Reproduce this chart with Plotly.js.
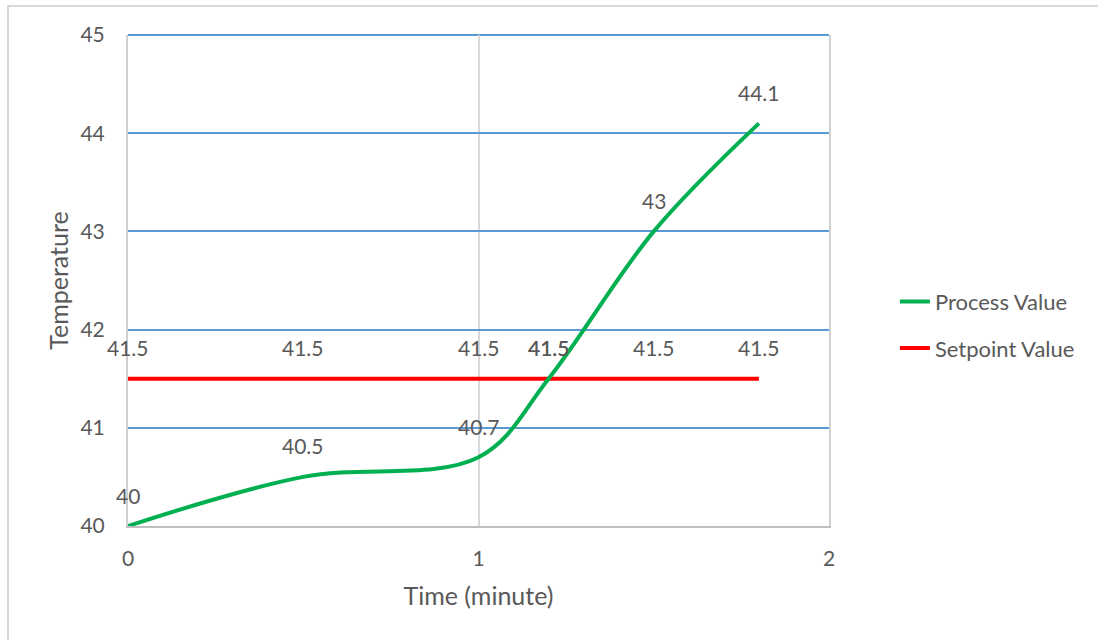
<!DOCTYPE html>
<html>
<head>
<meta charset="utf-8">
<script src="https://cdn.plot.ly/plotly-3.0.1.min.js"></script>
<style>
  html, body { margin: 0; padding: 0; background: #fff; }
  #wrap { position: relative; width: 1098px; height: 640px; overflow: hidden; }
  #chart { position: absolute; left: 0; top: 0; width: 1098px; height: 640px; }
  #frame {
    position: absolute; left: 7px; top: 5px; width: 1100px; height: 650px;
    border-left: 2px solid #D9D9D9; border-top: 2px solid #D9D9D9;
    pointer-events: none;
  }
</style>
</head>
<body>
<div id="wrap">
  <div id="chart"></div>
  <div id="frame"></div>
</div>
<script>
// Sample times (minutes) and temperature readings
const timeMin = [0, 0.5, 1, 1.2, 1.5, 1.8];
const processValue = [40, 40.5, 40.7, 41.5, 43, 44.1];
const setpointValue = [41.5, 41.5, 41.5, 41.5, 41.5, 41.5];
const seriesNames = ['Process Value', 'Setpoint Value'];
const xTickVals = [0, 1, 2];
const yTickVals = [40, 41, 42, 43, 44, 45];

const FONT = 'Lato, "Open Sans", sans-serif';
const TEXT_COLOR = '#595959';
const GRID_BLUE = '#5B9BD5';

// Setpoint drawn first so the process curve sits on top of it
const traces = [
  {
    x: timeMin, y: setpointValue, name: seriesNames[1],
    type: 'scatter', mode: 'lines',
    line: { color: '#FF0000', width: 4 },
    legendgroup: 'sp', legendrank: 2, hoverinfo: 'x+y'
  },
  {
    x: timeMin, y: processValue, name: seriesNames[0],
    type: 'scatter', mode: 'lines',
    line: { color: '#00B050', width: 4, shape: 'spline', smoothing: 1 },
    legendgroup: 'pv', legendrank: 1, hoverinfo: 'x+y'
  }
];

// Value labels placed above each point
function valueLabels(xs, ys) {
  return xs.map((x, i) => ({
    x: x, y: ys[i], xref: 'x', yref: 'y',
    text: String(ys[i]), showarrow: false,
    yshift: 31, font: { family: FONT, size: 21, color: TEXT_COLOR }
  }));
}

const layout = {
  width: 1098, height: 640,
  margin: { l: 128, r: 269, t: 35, b: 114, pad: 0 },
  paper_bgcolor: '#fff', plot_bgcolor: '#fff',
  font: { family: FONT, size: 21, color: TEXT_COLOR },
  showlegend: true,
  legend: {
    x: 1.094, y: 0.409, xanchor: 'left', yanchor: 'middle',
    tracegroupgap: 15, bgcolor: 'rgba(0,0,0,0)',
    font: { family: FONT, size: 22, color: TEXT_COLOR }
  },
  xaxis: {
    range: [0, 2], tickvals: xTickVals, ticktext: xTickVals.map(String),
    showgrid: true, gridcolor: '#D9D9D9', gridwidth: 2,
    zeroline: false, showline: true, linecolor: '#BFBFBF', linewidth: 2,
    ticks: '', ticklabelstandoff: 13,
    tickfont: { family: FONT, size: 21, color: TEXT_COLOR },
    title: { text: 'Time (minute)', standoff: 18, font: { family: FONT, size: 25, color: TEXT_COLOR } }
  },
  yaxis: {
    range: [40, 45], tickvals: yTickVals, ticktext: yTickVals.map(String),
    showgrid: true, gridcolor: GRID_BLUE, gridwidth: 2,
    zeroline: false, showline: true, mirror: true, linecolor: '#D0D0D0', linewidth: 2,
    ticks: '', ticklabelstandoff: 17,
    tickfont: { family: FONT, size: 21, color: TEXT_COLOR },
    title: { text: 'Temperature', standoff: 5, font: { family: FONT, size: 25, color: TEXT_COLOR } }
  },
  // top border of the plot area carries the gridline colour
  shapes: [{
    type: 'line', xref: 'paper', yref: 'paper', x0: 0, x1: 1, y0: 1, y1: 1,
    line: { color: GRID_BLUE, width: 2 }, layer: 'below'
  }],
  annotations: valueLabels(timeMin, setpointValue).concat(valueLabels(timeMin, processValue))
};

Plotly.newPlot('chart', traces, layout, { displayModeBar: false, staticPlot: true });
</script>
</body>
</html>
